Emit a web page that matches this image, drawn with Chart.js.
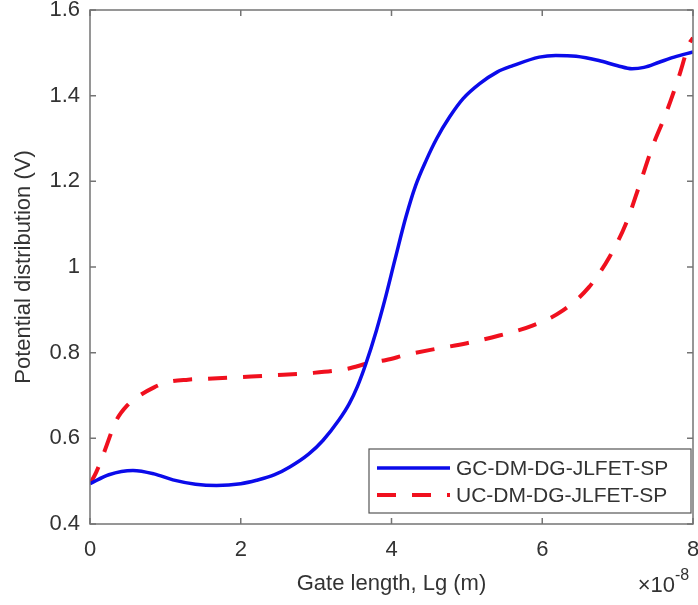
<!DOCTYPE html>
<html>
<head>
<meta charset="utf-8">
<script src="https://cdn.jsdelivr.net/npm/chart.js@4.4.1/dist/chart.umd.min.js"></script>
<style>
  html, body { margin: 0; padding: 0; background: #ffffff; }
  #wrap { width: 698px; height: 605px; position: relative; }
</style>
</head>
<body>
<div id="wrap"><canvas id="c" width="698" height="605"></canvas></div>
<script>
// ---- data (x in units of 1e-8 m, y in V) ----
const gcX = [0, 0.25, 0.57, 0.85, 1.10, 1.40, 1.68, 2.00, 2.21, 2.45, 2.65, 2.90, 3.09, 3.30, 3.44, 3.55, 3.66, 3.80, 3.91, 4.05, 4.19, 4.32, 4.46, 4.60, 4.77, 4.95, 5.17, 5.40, 5.61, 5.96, 6.18, 6.45, 6.75, 7.00, 7.19, 7.35, 7.55, 7.75, 8.00];
const gcY = [0.494, 0.515, 0.525, 0.517, 0.503, 0.493, 0.490, 0.494, 0.502, 0.515, 0.533, 0.563, 0.595, 0.642, 0.681, 0.722, 0.774, 0.852, 0.922, 1.020, 1.116, 1.190, 1.249, 1.300, 1.350, 1.393, 1.428, 1.455, 1.470, 1.490, 1.494, 1.492, 1.482, 1.470, 1.463, 1.466, 1.478, 1.490, 1.502];
const ucX = [0, 0.08, 0.18, 0.35, 0.50, 0.66, 0.85, 1.02, 1.30, 1.55, 1.99, 2.43, 2.91, 3.40, 3.71, 3.93, 4.20, 4.50, 5.00, 5.43, 5.87, 6.27, 6.62, 6.89, 7.11, 7.28, 7.46, 7.64, 7.81, 7.95, 8.00];
const ucY = [0.494, 0.520, 0.564, 0.642, 0.678, 0.700, 0.719, 0.731, 0.737, 0.739, 0.743, 0.747, 0.752, 0.762, 0.776, 0.783, 0.795, 0.806, 0.822, 0.840, 0.863, 0.898, 0.953, 1.023, 1.101, 1.186, 1.280, 1.358, 1.443, 1.521, 1.535];
const seriesNames = ['GC-DM-DG-JLFET-SP', 'UC-DM-DG-JLFET-SP'];
const xTitle = 'Gate length, Lg (m)';
const yTitle = 'Potential distribution (V)';
const expBase = '\u00d710';
const expPow = '-8';

const FONT = 'Arial, "Liberation Sans", Helvetica, sans-serif';
const TXT = '#333333';
const AX = '#747474';

function pts(xs, ys) { return xs.map((x, i) => ({ x: x, y: ys[i] })); }

const framePlugin = {
  id: 'frame',
  afterDraw(chart) {
    const ctx = chart.ctx;
    const a = chart.chartArea;
    const xs = chart.scales.x, ys = chart.scales.y;
    ctx.save();
    // box
    ctx.strokeStyle = AX;
    ctx.lineWidth = 1.5;
    ctx.strokeRect(a.left, a.top, a.right - a.left, a.bottom - a.top);
    // inward ticks
    const tl = 6;
    ctx.beginPath();
    xs.ticks.forEach(t => {
      const px = xs.getPixelForValue(t.value);
      ctx.moveTo(px, a.bottom); ctx.lineTo(px, a.bottom - tl);
      ctx.moveTo(px, a.top); ctx.lineTo(px, a.top + tl);
    });
    ys.ticks.forEach(t => {
      const py = ys.getPixelForValue(t.value);
      ctx.moveTo(a.left, py); ctx.lineTo(a.left + tl, py);
      ctx.moveTo(a.right, py); ctx.lineTo(a.right - tl, py);
    });
    ctx.stroke();

    // legend
    const lx = 369, ly = 449, lw = 322, lh = 64;
    ctx.fillStyle = '#ffffff';
    ctx.fillRect(lx, ly, lw, lh);
    ctx.strokeStyle = '#555555';
    ctx.lineWidth = 1.2;
    ctx.strokeRect(lx, ly, lw, lh);
    const rows = [468, 495];
    chart.data.datasets.forEach((ds, i) => {
      ctx.save();
      ctx.strokeStyle = ds.borderColor;
      ctx.lineWidth = ds.borderWidth;
      ctx.setLineDash(ds.borderDash || []);
      ctx.beginPath();
      ctx.moveTo(377, rows[i]);
      ctx.lineTo(450, rows[i]);
      ctx.stroke();
      ctx.restore();
      ctx.fillStyle = TXT;
      ctx.font = '21px ' + FONT;
      ctx.textAlign = 'left';
      ctx.textBaseline = 'middle';
      ctx.fillText(ds.label, 456, rows[i] + 1);
    });

    // exponent label
    ctx.fillStyle = TXT;
    ctx.textBaseline = 'alphabetic';
    ctx.textAlign = 'right';
    ctx.font = '22px ' + FONT;
    ctx.fillText(expBase, 675, 592);
    ctx.textAlign = 'left';
    ctx.font = '16px ' + FONT;
    ctx.fillText(expPow, 675, 580);
    ctx.restore();
  }
};

new Chart(document.getElementById('c'), {
  type: 'line',
  data: {
    datasets: [
      {
        label: seriesNames[0],
        data: pts(gcX, gcY),
        borderColor: '#0b0bea',
        borderWidth: 3.5,
        pointRadius: 0,
        fill: false,
        cubicInterpolationMode: 'monotone'
      },
      {
        label: seriesNames[1],
        data: pts(ucX, ucY),
        borderColor: '#f0101e',
        borderWidth: 4,
        borderDash: [19, 16],
        pointRadius: 0,
        fill: false,
        cubicInterpolationMode: 'monotone'
      }
    ]
  },
  options: {
    responsive: false,
    animation: false,
    layout: { padding: { top: 10, right: 5, left: 0, bottom: 0 } },
    plugins: { legend: { display: false }, tooltip: { enabled: false } },
    scales: {
      x: {
        type: 'linear',
        min: 0, max: 8,
        grid: { display: false, drawTicks: false },
        border: { display: false },
        ticks: { stepSize: 2, padding: 13, color: TXT, font: { size: 22, family: FONT } },
        title: { display: true, text: xTitle, color: TXT, font: { size: 22, family: FONT }, padding: { top: 0, bottom: 8 } },
        afterFit(s) { s.height = 81; s.paddingLeft = 0; s.paddingRight = 0; }
      },
      y: {
        type: 'linear',
        min: 0.4, max: 1.6,
        grid: { display: false, drawTicks: false },
        border: { display: false },
        ticks: {
          stepSize: 0.2, padding: 10, color: TXT, font: { size: 22, family: FONT },
          callback: v => String(+v.toFixed(2))
        },
        title: { display: true, text: yTitle, color: TXT, font: { size: 22, family: FONT }, padding: { top: 11, bottom: 0 } },
        afterFit(s) { s.width = 90; s.paddingTop = 0; s.paddingBottom = 0; }
      }
    }
  },
  plugins: [framePlugin]
});
</script>
</body>
</html>
